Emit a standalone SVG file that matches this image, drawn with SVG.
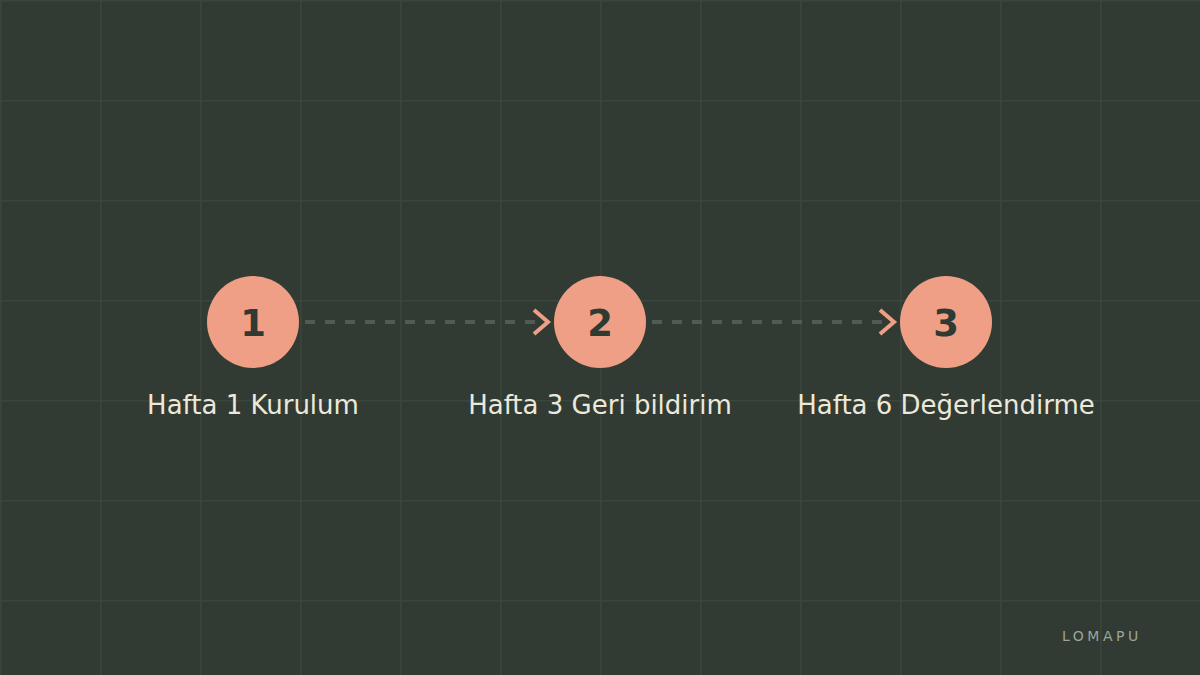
<svg xmlns="http://www.w3.org/2000/svg" width="1200" height="675" viewBox="0 0 1200 675">
<defs>
<pattern id="grid" width="100" height="100" patternUnits="userSpaceOnUse">
<path d="M0 0.5 H100 M0.5 0 V100" fill="none" stroke="#3a453c" stroke-width="2"/>
</pattern>
</defs>
<style>
.node circle{fill:#ee9f85}
.num{font-family:"DejaVu Sans",sans-serif;font-weight:bold;font-size:37px;fill:#2f3a32;text-anchor:middle}
.lbl{font-family:"DejaVu Sans",sans-serif;font-size:26px;fill:#ece8da;text-anchor:middle}
.dash{stroke:#505b53;stroke-width:4;stroke-dasharray:10 10;fill:none}
.chev{stroke:#ee9f85;stroke-width:4;fill:none;stroke-linecap:butt}
</style>
<rect width="1200" height="675" fill="#313b33"/>
<rect width="1200" height="675" fill="url(#grid)"/>
<g id="connectors">
<path class="dash" d="M305 322 H535"/>
<path class="chev" d="M534 310 L548 322 L534 334"/>
<path class="dash" d="M652 322 H882"/>
<path class="chev" d="M880 310 L894 322 L880 334"/>
</g>
<g id="node1" class="node">
<circle cx="253" cy="322" r="46"/>
<text class="num" x="253" y="336">1</text>
<text class="lbl" x="253" y="414">Hafta 1 Kurulum</text>
</g>
<g id="node2" class="node">
<circle cx="600" cy="322" r="46"/>
<text class="num" x="600" y="336">2</text>
<text class="lbl" x="600" y="414">Hafta 3 Geri bildirim</text>
</g>
<g id="node3" class="node">
<circle cx="946" cy="322" r="46"/>
<text class="num" x="946" y="336">3</text>
<text class="lbl" x="946" y="414">Hafta 6 Değerlendirme</text>
</g>
<text x="1062" y="641" font-family="DejaVu Sans, sans-serif" font-size="14" letter-spacing="3.5" fill="#9ba49b">LOMAPU</text>
</svg>
